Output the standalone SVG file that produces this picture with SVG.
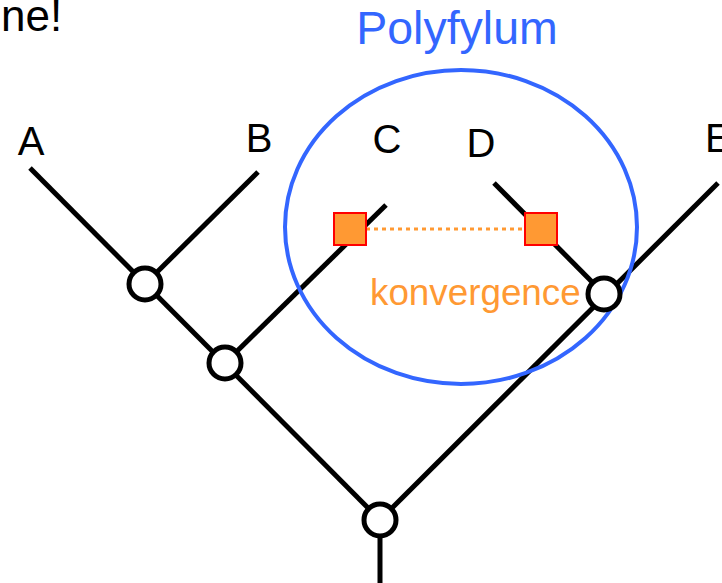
<svg xmlns="http://www.w3.org/2000/svg" width="722" height="583" viewBox="0 0 722 583">
<style>
.br{stroke:#000;stroke-width:5;fill:none;stroke-linecap:butt}
.nd{fill:#fff;stroke:#000;stroke-width:5}
.lb{font-family:"Liberation Sans",Arial,sans-serif;font-size:40px;fill:#000}
.sq{fill:#FF9933;stroke:#F00;stroke-width:2}
</style>
<rect width="722" height="583" fill="#fff"/>
<text x="1" y="31" class="lb" style="font-size:44px">ne!</text>
<g id="connectors">
<line class="br" x1="30" y1="168" x2="380" y2="520"/>
<line class="br" x1="145" y1="284" x2="258" y2="172"/>
<line class="br" x1="225" y1="363" x2="386" y2="205"/>
<line class="br" x1="494" y1="183" x2="604" y2="294"/>
<line class="br" x1="380" y1="520" x2="718" y2="183"/>
<line class="br" x1="380" y1="520" x2="380" y2="583"/>
<line x1="366" y1="229" x2="525" y2="229" stroke="#FF9933" stroke-width="3" stroke-dasharray="4,4"/>
</g>
<g id="polyfylum">
<ellipse cx="461" cy="227" rx="176" ry="157" fill="none" stroke="#3366FF" stroke-width="4"/>
<text x="457" y="44" text-anchor="middle" font-family="Liberation Sans,Arial,sans-serif" font-size="46.5" fill="#3366FF">Polyfylum</text>
</g>
<g id="nodeA"><text x="31" y="155" text-anchor="middle" class="lb">A</text></g>
<g id="nodeB"><text x="259" y="152" text-anchor="middle" class="lb">B</text></g>
<g id="nodeC"><text x="387" y="153" text-anchor="middle" class="lb">C</text></g>
<g id="nodeD"><text x="481" y="157" text-anchor="middle" class="lb">D</text></g>
<g id="nodeE"><text x="705" y="152" class="lb">E</text></g>
<g id="n1"><circle class="nd" cx="145" cy="284" r="16"/></g>
<g id="n2"><circle class="nd" cx="225" cy="363" r="16"/></g>
<g id="n3"><circle class="nd" cx="604" cy="294" r="16"/></g>
<g id="root"><circle class="nd" cx="380" cy="520" r="16"/></g>
<g id="sqC"><rect class="sq" x="334" y="213" width="32" height="32"/></g>
<g id="sqD"><rect class="sq" x="525" y="213" width="32" height="32"/></g>
<g id="konv"><text x="370" y="305" font-family="Liberation Sans,Arial,sans-serif" font-size="36.8" fill="#FF9933">konvergence</text></g>
</svg>
